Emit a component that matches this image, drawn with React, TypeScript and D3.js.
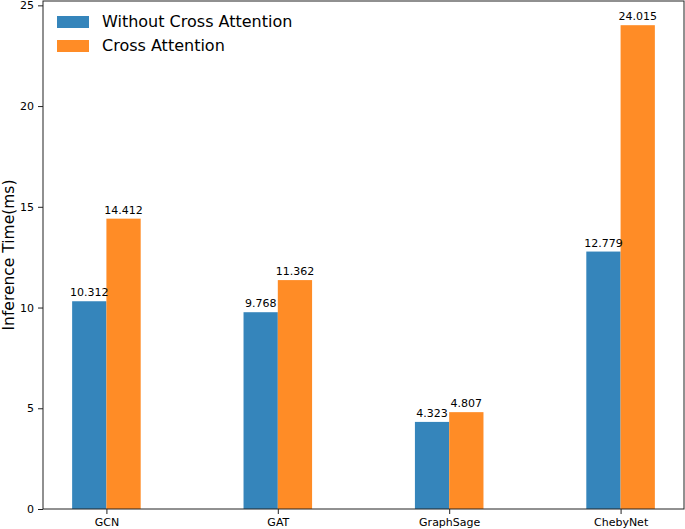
import * as d3 from "d3";
import { useRef, useEffect } from "react";

const categories = ["GCN", "GAT", "GraphSage", "ChebyNet"];
const withoutCross = [10.312, 9.768, 4.323, 12.779];
const withCross = [14.412, 11.362, 4.807, 24.015];
const seriesNames = ["Without Cross Attention", "Cross Attention"];
const yTicks = [0, 5, 10, 15, 20, 25];

const width = 685;
const height = 529;
const marginLeft = 43;
const marginRight = 1;
const marginTop = 1;
const marginBottom = 20;
const barW = 0.2;
const blue = "#3585bb";
const orange = "#ff8c26";
const font = "DejaVu Sans, sans-serif";

export default function App() {
  const gx = useRef<SVGGElement>(null);
  const gy = useRef<SVGGElement>(null);

  const x = d3.scaleLinear([-0.37, 3.37], [marginLeft, width - marginRight]);
  const yMax = d3.max(withCross)! * 1.05;
  const y = d3.scaleLinear([0, yMax], [height - marginBottom, marginTop]);

  useEffect(() => {
    const ax = d3
      .axisBottom(x)
      .tickValues(categories.map((_, i) => i))
      .tickFormat((d) => categories[d as number])
      .tickSize(5)
      .tickPadding(4);
    const g = d3.select(gx.current!).call(ax);
    g.select(".domain").remove();
    g.selectAll("text").attr("font-size", 11).attr("font-family", font).attr("fill", "#000");
    g.selectAll("line").attr("stroke", "#222");
  }, [x]);

  useEffect(() => {
    const ay = d3.axisLeft(y).tickValues(yTicks).tickSize(5).tickPadding(4);
    const g = d3.select(gy.current!).call(ay);
    g.select(".domain").remove();
    g.selectAll("text").attr("font-size", 11).attr("font-family", font).attr("fill", "#000");
    g.selectAll("line").attr("stroke", "#222");
  }, [y]);

  const label = (v: number) => v.toFixed(3);

  return (
    <svg width={width} height={height} style={{ position: "absolute", left: 0, top: 0, background: "#fff" }}>
      {categories.map((c, i) => (
        <g key={c}>
          <rect
            x={x(i - barW)}
            y={y(withoutCross[i])}
            width={x(i) - x(i - barW)}
            height={y(0) - y(withoutCross[i])}
            fill={blue}
          />
          <rect
            x={x(i)}
            y={y(withCross[i])}
            width={x(i + barW) - x(i)}
            height={y(0) - y(withCross[i])}
            fill={orange}
          />
          <text
            x={x(i - barW / 2)}
            y={y(withoutCross[i]) - 5}
            textAnchor="middle"
            fontSize={11}
            fontFamily={font}
          >
            {label(withoutCross[i])}
          </text>
          <text
            x={x(i + barW / 2)}
            y={y(withCross[i]) - 5}
            textAnchor="middle"
            fontSize={11}
            fontFamily={font}
          >
            {label(withCross[i])}
          </text>
        </g>
      ))}
      <g ref={gx} transform={`translate(0,${height - marginBottom})`} />
      <g ref={gy} transform={`translate(${marginLeft},0)`} />
      <rect
        x={marginLeft}
        y={marginTop}
        width={width - marginRight - marginLeft}
        height={height - marginBottom - marginTop}
        fill="none"
        stroke="#222"
        strokeWidth={1}
      />
      <text
        transform={`translate(14,${(marginTop + height - marginBottom) / 2}) rotate(-90)`}
        textAnchor="middle"
        fontSize={15.5}
        fontFamily={font}
      >
        Inference Time(ms)
      </text>
      {seriesNames.map((s, i) => (
        <g key={s} transform={`translate(57,${16 + i * 24})`}>
          <rect width={32} height={12} fill={i === 0 ? blue : orange} />
          <text x={45} y={11} fontSize={16} fontFamily={font}>
            {s}
          </text>
        </g>
      ))}
    </svg>
  );
}
